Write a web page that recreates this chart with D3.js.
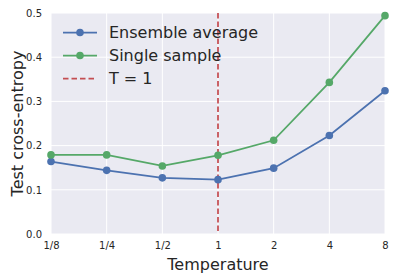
<!DOCTYPE html>
<html>
<head>
<meta charset="utf-8">
<script src="https://cdn.jsdelivr.net/npm/d3@7"></script>
<style>
  body { margin: 0; background: #fff; }
  text { font-family: "DejaVu Sans", sans-serif; fill: #262626; }
</style>
</head>
<body>
<div id="chart"></div>
<script>
// === DATA ===
const temperatures = ["1/8", "1/4", "1/2", "1", "2", "4", "8"];
const ensembleAvg = [0.164, 0.144, 0.127, 0.123, 0.149, 0.223, 0.324];
const singleSample = [0.179, 0.179, 0.154, 0.178, 0.212, 0.343, 0.494];
const yTicks = [0.0, 0.1, 0.2, 0.3, 0.4, 0.5];
const refT = "1";

const series = [
    { name: "Ensemble average", values: ensembleAvg, color: "#4C72B0" },
    { name: "Single sample", values: singleSample, color: "#55A868" }
];

const W = 395, H = 279;
const margin = { top: 13, right: 10, bottom: 45, left: 51 };

const svg = d3.select("#chart").append("svg")
    .attr("width", W)
    .attr("height", H);

const x = d3.scalePoint()
    .domain(temperatures)
    .range([margin.left, W - margin.right]);

const y = d3.scaleLinear()
    .domain([0, 0.5])
    .range([H - margin.bottom, margin.top]);

// background
svg.append("rect")
    .attr("x", margin.left)
    .attr("y", margin.top)
    .attr("width", W - margin.right - margin.left)
    .attr("height", H - margin.bottom - margin.top)
    .attr("fill", "#EAEAF2");

// grid
svg.append("g").selectAll("line")
    .data(yTicks)
    .join("line")
    .attr("x1", margin.left)
    .attr("x2", W - margin.right)
    .attr("y1", d => y(d))
    .attr("y2", d => y(d))
    .attr("stroke", "#fff")
    .attr("stroke-width", 1);

svg.append("g").selectAll("line")
    .data(temperatures)
    .join("line")
    .attr("x1", d => x(d))
    .attr("x2", d => x(d))
    .attr("y1", margin.top)
    .attr("y2", H - margin.bottom)
    .attr("stroke", "#fff")
    .attr("stroke-width", 1);

// axes (labels only, seaborn style)
const xAxis = svg.append("g")
    .attr("transform", `translate(0,${H - margin.bottom})`)
    .call(d3.axisBottom(x).tickSize(0).tickPadding(8));
xAxis.select(".domain").remove();
xAxis.selectAll("text")
    .attr("font-size", "10px")
    .style("font-family", "DejaVu Sans")
    .attr("fill", "#262626");

const yAxis = svg.append("g")
    .attr("transform", `translate(${margin.left},0)`)
    .call(d3.axisLeft(y).tickValues(yTicks).tickFormat(d3.format(".1f")).tickSize(0).tickPadding(9));
yAxis.select(".domain").remove();
yAxis.selectAll("text")
    .attr("font-size", "10px")
    .style("font-family", "DejaVu Sans")
    .attr("fill", "#262626");

// lines
const line = d3.line()
    .x((d, i) => x(temperatures[i]))
    .y(d => y(d));

series.forEach(s => {
    svg.append("path")
        .datum(s.values)
        .attr("d", line)
        .attr("fill", "none")
        .attr("stroke", s.color)
        .attr("stroke-width", 1.75);
});

// vertical reference line T = 1
svg.append("line")
    .attr("x1", x(refT))
    .attr("x2", x(refT))
    .attr("y1", margin.top)
    .attr("y2", H - margin.bottom)
    .attr("stroke", "#C44E52")
    .attr("stroke-width", 1.75)
    .attr("stroke-dasharray", "5.5,3");

series.forEach(s => {
    svg.append("g").selectAll("circle")
        .data(s.values)
        .join("circle")
        .attr("cx", (d, i) => x(temperatures[i]))
        .attr("cy", d => y(d))
        .attr("r", 3.8)
        .attr("fill", s.color);
});

// === LEGEND ===
const legendItems = [
    { name: "Ensemble average", color: "#4C72B0", type: "marker" },
    { name: "Single sample", color: "#55A868", type: "marker" },
    { name: "T = 1", color: "#C44E52", type: "dash" }
];
const lg = svg.append("g");
legendItems.forEach((d, i) => {
    const ly = 32.5 + i * 23;
    lg.append("line")
        .attr("x1", 63).attr("x2", 97)
        .attr("y1", ly).attr("y2", ly)
        .attr("stroke", d.color)
        .attr("stroke-width", 1.75)
        .attr("stroke-dasharray", d.type === "dash" ? "5.5,3" : null);
    if (d.type === "marker") {
        lg.append("circle")
            .attr("cx", 80).attr("cy", ly)
            .attr("r", 3.8)
            .attr("fill", d.color);
    }
    lg.append("text")
        .attr("x", 109)
        .attr("y", ly)
        .attr("dy", "0.35em")
        .attr("font-size", "16px")
        .text(d.name);
});

// axis titles
svg.append("text")
    .attr("x", x(refT))
    .attr("y", H - 9)
    .attr("text-anchor", "middle")
    .attr("font-size", "16px")
    .text("Temperature");

svg.append("text")
    .attr("transform", `translate(23,${(margin.top + H - margin.bottom) / 2}) rotate(-90)`)
    .attr("text-anchor", "middle")
    .attr("font-size", "16px")
    .text("Test cross-entropy");
</script>
</body>
</html>
